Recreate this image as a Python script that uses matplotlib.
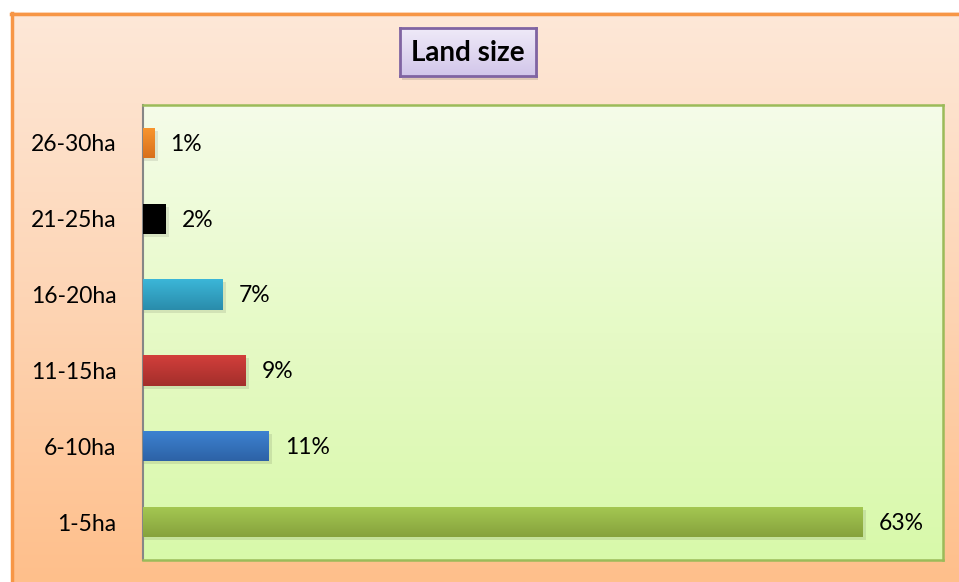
import numpy as np
import matplotlib
matplotlib.use("Agg")
import matplotlib.pyplot as plt
from matplotlib.colors import LinearSegmentedColormap
from matplotlib.patches import Rectangle

categories = ["1-5ha", "6-10ha", "11-15ha", "16-20ha", "21-25ha", "26-30ha"]
values = [63, 11, 9, 7, 2, 1]
labels = ["63%", "11%", "9%", "7%", "2%", "1%"]
# top / bottom colours of each bar gradient
bar_top = ["#a5c852", "#3d83d2", "#d23f3b", "#3bb6d8", "#000000", "#f9962f"]
bar_bot = ["#86a23d", "#2d62a6", "#a32e2b", "#2a8cab", "#000000", "#d8701c"]

plt.rcParams['font.family'] = ['Lato', 'DejaVu Sans']

W, H = 959, 582
fig = plt.figure(figsize=(W / 100, H / 100), dpi=100)
fig.patch.set_facecolor("white")

# outer chart area (cut off at right / bottom)
bg = fig.add_axes([11 / W, 0, 1 - 11 / W, 1 - 12 / H])
bg.set_axis_off()
outer = LinearSegmentedColormap.from_list("outer", ["#fee8d8", "#fdd5b5", "#ffbf8b"])
bg.imshow(np.linspace(0, 1, 256).reshape(-1, 1), cmap=outer, aspect="auto",
          extent=[0, 1, 0, 1], origin="upper")
bg.set_xlim(0, 1)
bg.set_ylim(0, 1)
bg.plot([0.0015, 0.0015], [0, 0.998], color="#f79646", lw=2.5, clip_on=False)
bg.plot([0, 1], [0.997, 0.997], color="#f79646", lw=2.5, clip_on=False)
# shadow of the title box
bg.add_patch(Rectangle((402 / W, 1 - 80 / H), 136 / W, 48 / H,
                       transform=fig.transFigure, color="black",
                       alpha=0.12, lw=0))

# title box with gradient fill
tb = fig.add_axes([400 / W, 1 - 76 / H, 136 / W, 48 / H])
tb.set_zorder(3)
tb.set_xticks([])
tb.set_yticks([])
tcm = LinearSegmentedColormap.from_list("t", ["#efeaf8", "#d2c6ea"])
tb.imshow(np.linspace(0, 1, 64).reshape(-1, 1), cmap=tcm, aspect="auto",
          extent=[0, 1, 0, 1], origin="upper")
for s in tb.spines.values():
    s.set_color("#8064a2")
    s.set_linewidth(2)
tb.text(0.5, 0.47, "Land size", ha="center", va="center", fontsize=20,
        fontweight="bold", transform=tb.transAxes)

ax = fig.add_axes([143 / W, 1 - 560 / H, 800 / W, 455 / H])
ax.set_zorder(2)
pa = LinearSegmentedColormap.from_list("pa", ["#f5fce9", "#e6fac6", "#d8f9aa"])
ax.imshow(np.linspace(0, 1, 256).reshape(-1, 1), cmap=pa, aspect="auto",
          extent=[0, 70, -0.5, 5.5], origin="upper", zorder=0)

y = np.arange(len(categories))
bars = ax.barh(y, values, height=0.4, color=bar_top, zorder=2)
for b, c1, c2 in zip(bars, bar_top, bar_bot):
    x0, y0 = b.get_x(), b.get_y()
    w, h = b.get_width(), b.get_height()
    # soft shadow
    ax.add_patch(Rectangle((x0, y0 - 0.04), w + 0.3, h, color="black",
                           alpha=0.09, lw=0, zorder=1))
    cm = LinearSegmentedColormap.from_list("b", [c2, c1])
    im = ax.imshow(np.linspace(0, 1, 64).reshape(-1, 1), cmap=cm, aspect="auto",
                   extent=[x0, x0 + w, y0, y0 + h], origin="lower", zorder=3)
    im.set_clip_path(b)

for yi, v, t in zip(y, values, labels):
    ax.annotate(t, (v, yi), xytext=(11.5, -1), textcoords="offset points",
                va="center", ha="left", fontsize=16.5)

ax.set_xlim(0, 70)
ax.set_ylim(-0.5, 5.5)
ax.set_xticks([])
ax.set_yticks(y)
ax.set_yticklabels(categories, fontsize=16.5)
ax.tick_params(axis="y", length=0, pad=19)
for s in ["top", "right", "bottom"]:
    ax.spines[s].set_color("#9bbb59")
    ax.spines[s].set_linewidth(1.8)
ax.spines["left"].set_color("#868686")
ax.spines["left"].set_linewidth(1.5)

fig.savefig("out.png", dpi=100)
